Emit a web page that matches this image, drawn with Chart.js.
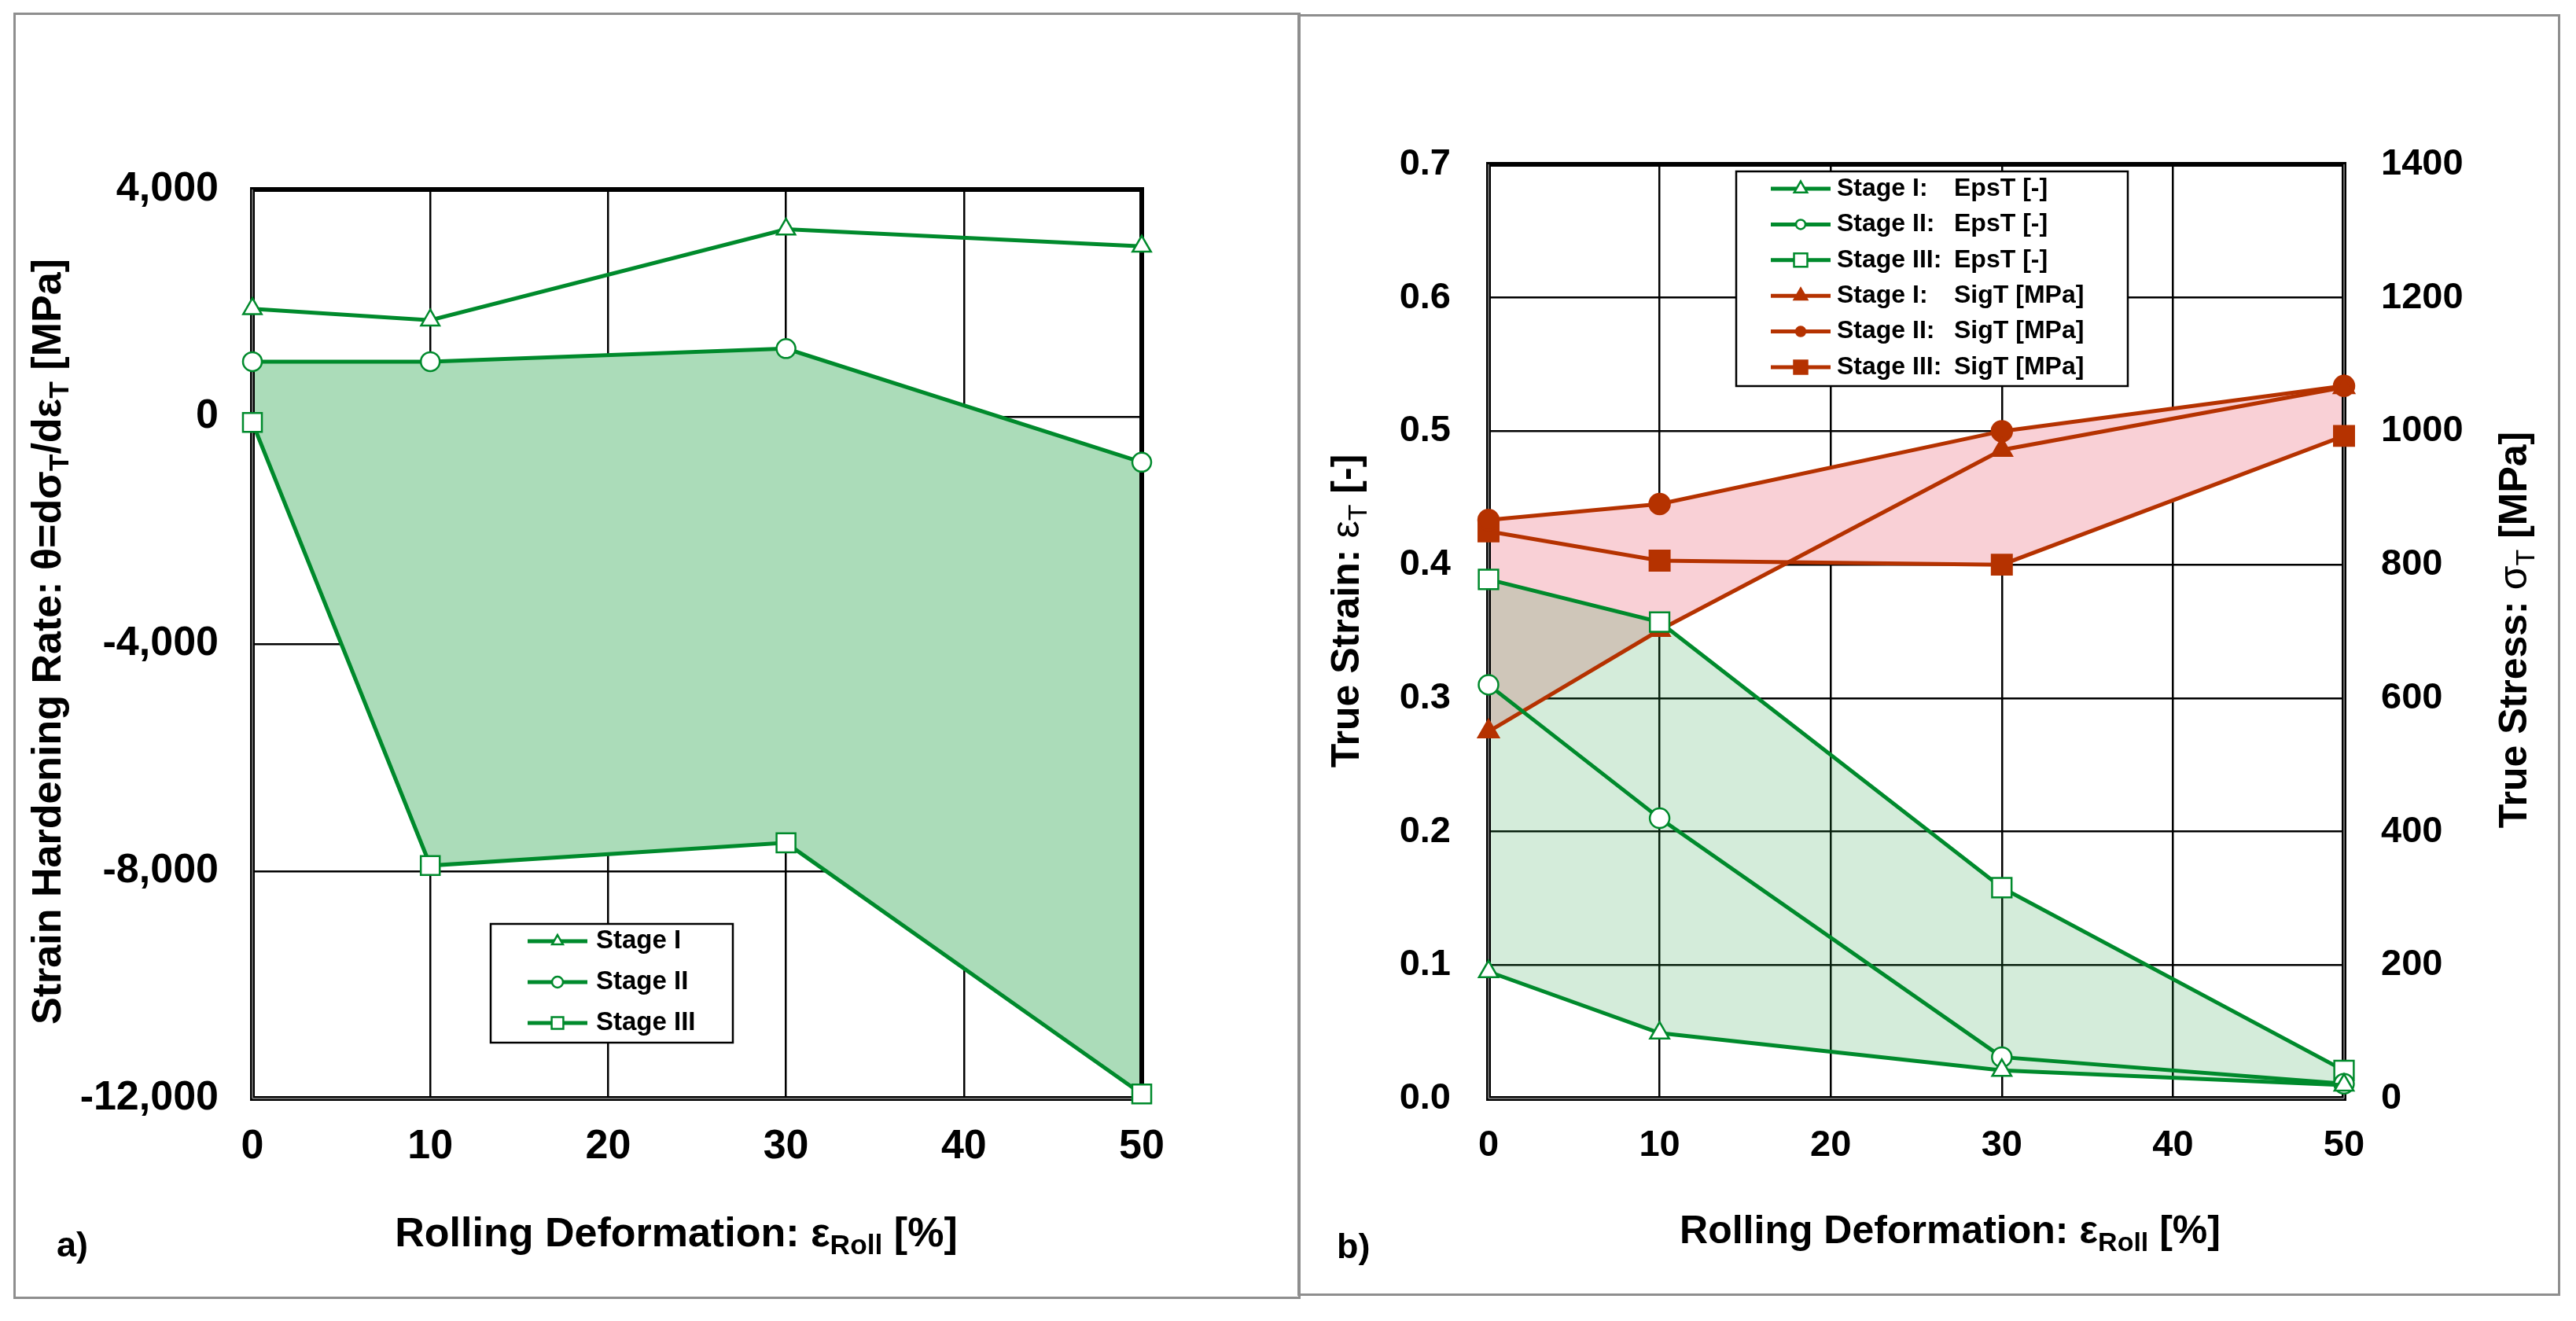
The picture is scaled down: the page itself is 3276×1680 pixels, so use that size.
<!doctype html>
<html>

<head>
  <meta charset="utf-8">
  <script src="https://cdn.jsdelivr.net/npm/chart.js@4.4.1/dist/chart.umd.min.js"></script>
  <style>
    html, body { margin: 0; padding: 0; background: #fff; }
    body { width: 3276px; height: 1680px; position: relative; overflow: hidden; }
    canvas { position: absolute; top: 0; }
    .panel { position: absolute; border: 3px solid #8e8e8e; box-sizing: border-box; pointer-events: none; }
  </style>
</head>

<body>
  <canvas id="chartA" width="1652" height="1680" style="left:0"></canvas>
  <canvas id="chartB" width="1624" height="1680" style="left:1652px"></canvas>
  <div class="panel" style="left:17px;top:16px;width:1637px;height:1636px"></div>
  <div class="panel" style="left:1650px;top:18px;width:1606px;height:1630px"></div>
  <script>
    // rolling deformation [%]
    const rolling = [0, 10, 30, 50];
    const rollingTicks = [0, 10, 20, 30, 40, 50];

    // a) strain hardening rate [MPa]
    const thetaStageI = [1900, 1700, 3300, 3000];
    const thetaStageII = [970, 970, 1200, -800];
    const thetaStageIII = [-100, -7900, -7500, -11920];
    const thetaTicks = [-12000, -8000, -4000, 0, 4000];

    // b) true strain [-] and true stress [MPa]
    const epsStageI = [0.095, 0.049, 0.021, 0.010];
    const epsStageII = [0.31, 0.21, 0.031, 0.011];
    const epsStageIII = [0.389, 0.357, 0.158, 0.021];
    const sigStageI = [550, 702, 972, 1066];
    const sigStageII = [867, 891, 1000, 1068];
    const sigStageIII = [850, 806, 800, 993];
    const epsTicks = [0, 0.1, 0.2, 0.3, 0.4, 0.5, 0.6, 0.7];
    const sigTicks = [0, 200, 400, 600, 800, 1000, 1200, 1400];

    const FONT = "'Liberation Sans', Arial, sans-serif";
    const GREEN = '#008a2c';
    const RED = '#b53200';

    Chart.defaults.font.family = FONT;
    Chart.defaults.color = '#000';

    const pts = (ys) => rolling.map((x, i) => ({ x: x, y: ys[i] }));
    const fixTicks = (list) => (s) => { s.ticks = list.map((v) => ({ value: v })); };

    function series(label, ys, color, style, radius, legendRadius, open, extra) {
      return Object.assign({
        label: label,
        data: pts(ys),
        borderColor: color,
        borderWidth: 5,
        pointStyle: style,
        pointRadius: radius,
        pointBorderWidth: 2.5,
        pointBorderColor: color,
        pointBackgroundColor: open ? '#fff' : color,
        legendRadius: legendRadius,
        fill: false,
        clip: false,
        tension: 0
      }, extra || {});
    }

    // black plot frame, drawn over the fills but under the lines
    const framePlugin = {
      id: 'frame',
      beforeDatasetsDraw(chart, args, o) {
        const { ctx, chartArea: a } = chart;
        ctx.save();
        ctx.strokeStyle = '#000';
        ctx.lineWidth = 6;
        ctx.strokeRect(a.left, a.top, a.right - a.left, a.bottom - a.top);
        ctx.strokeStyle = '#8a8a8a';
        ctx.lineWidth = 1.5;
        ctx.beginPath();
        (o.inner || []).forEach((side) => {
          if (side === 'left') { ctx.moveTo(a.left, a.top); ctx.lineTo(a.left, a.bottom); }
          if (side === 'bottom') { ctx.moveTo(a.left, a.bottom); ctx.lineTo(a.right, a.bottom); }
          if (side === 'right') { ctx.moveTo(a.right, a.top); ctx.lineTo(a.right, a.bottom); }
        });
        ctx.stroke();
        ctx.restore();
      }
    };

    // boxed legend placed inside the plot
    const boxLegend = {
      id: 'boxLegend',
      afterDraw(chart, args, o) {
        const ctx = chart.ctx;
        ctx.save();
        ctx.fillStyle = '#fff';
        ctx.fillRect(o.x, o.y, o.w, o.h);
        ctx.strokeStyle = '#000';
        ctx.lineWidth = 2.5;
        ctx.strokeRect(o.x, o.y, o.w, o.h);
        chart.data.datasets.forEach((d, i) => {
          const y = o.y + o.first + i * o.row;
          ctx.strokeStyle = d.borderColor;
          ctx.lineWidth = 5;
          ctx.beginPath();
          ctx.moveTo(o.x + o.line0, y);
          ctx.lineTo(o.x + o.line1, y);
          ctx.stroke();
          ctx.fillStyle = d.pointBackgroundColor;
          ctx.strokeStyle = d.pointBorderColor;
          ctx.lineWidth = 2.5;
          Chart.helpers.drawPoint(ctx, {
            pointStyle: d.pointStyle, radius: d.legendRadius, rotation: 0, borderWidth: 2.5
          }, o.x + (o.line0 + o.line1) / 2, y);
          ctx.fillStyle = '#000';
          ctx.font = 'bold ' + o.size + 'px ' + FONT;
          ctx.textAlign = 'left';
          ctx.textBaseline = 'middle';
          const parts = d.label.split(/:\s+/);
          if (parts.length > 1) {
            ctx.fillText(parts[0] + ':', o.x + o.text, y);
            ctx.fillText(parts[1], o.x + o.col2, y);
          } else {
            ctx.fillText(d.label, o.x + o.text, y);
          }
        });
        ctx.restore();
      }
    };

    // axis titles with subscripts and panel letters
    const richText = {
      id: 'richText',
      afterDraw(chart, args, o) {
        const ctx = chart.ctx;
        (o.items || []).forEach((it) => {
          ctx.save();
          ctx.translate(it.x, it.y);
          if (it.rot) ctx.rotate(it.rot * Math.PI / 180);
          ctx.fillStyle = '#000';
          ctx.textBaseline = 'alphabetic';
          ctx.textAlign = 'left';
          const segs = it.parts.map((p) => {
            const size = p.sub ? it.size * 0.68 : it.size;
            const font = (p.weight || 'bold') + ' ' + size + 'px ' + FONT;
            ctx.font = font;
            return { t: p.t, font: font, w: ctx.measureText(p.t).width, dy: p.sub ? it.size * 0.2 : 0 };
          });
          const total = segs.reduce((s, g) => s + g.w, 0);
          let x = it.align === 'left' ? 0 : -total / 2;
          const base = it.size * 0.36;
          segs.forEach((g) => {
            ctx.font = g.font;
            ctx.fillText(g.t, x, base + g.dy);
            x += g.w;
          });
          ctx.restore();
        });
      }
    };

    const gridOpts = { color: '#000', lineWidth: 2.5, drawTicks: false };
    const rollTitle = [{ t: 'Rolling Deformation: ε' }, { t: 'Roll', sub: true }, { t: ' [%]' }];

    // ---------- a) ----------
    new Chart(document.getElementById('chartA').getContext('2d'), {
      type: 'line',
      data: {
        datasets: [
          series('Stage I', thetaStageI, GREEN, 'triangle', 13.5, 8, true),
          series('Stage II', thetaStageII, GREEN, 'circle', 12, 7, true, { fill: 2, backgroundColor: '#abdcb9' }),
          series('Stage III', thetaStageIII, GREEN, 'rect', 17, 10.5, true)
        ]
      },
      options: {
        responsive: false,
        animation: false,
        devicePixelRatio: 1,
        events: [],
        layout: { padding: { left: 0, top: 241, right: 200, bottom: 163 } },
        scales: {
          x: {
            type: 'linear', min: 0, max: 50,
            afterBuildTicks: fixTicks(rollingTicks),
            afterFit: (s) => { s.height = 120; },
            grid: gridOpts,
            border: { display: false },
            ticks: { autoSkip: false, maxRotation: 0, padding: 30, font: { size: 52, weight: 'bold' } }
          },
          y: {
            type: 'linear', min: -12000, max: 4000,
            afterBuildTicks: fixTicks(thetaTicks),
            afterFit: (s) => { s.width = 321; },
            grid: gridOpts,
            border: { display: false },
            ticks: {
              autoSkip: false, padding: 43, font: { size: 52, weight: 'bold' },
              callback: (v) => v.toLocaleString('en-US')
            }
          }
        },
        plugins: {
          legend: { display: false },
          tooltip: { enabled: false },
          filler: { drawTime: 'beforeDatasetsDraw' },
          frame: { inner: ['left', 'bottom'] },
          boxLegend: { x: 624, y: 1175, w: 308, h: 151, first: 22, row: 52, line0: 47, line1: 123, text: 134, size: 33 },
          richText: {
            items: [
              { parts: rollTitle, x: 860, y: 1566, size: 52 },
              {
                parts: [{ t: 'Strain Hardening Rate: θ=dσ' }, { t: 'T', sub: true }, { t: '/dε' }, { t: 'T', sub: true }, { t: ' [MPa]' }],
                x: 58, y: 816, rot: -90, size: 52
              },
              { parts: [{ t: 'a)' }], x: 72, y: 1582, size: 45, align: 'left' }
            ]
          }
        }
      },
      plugins: [framePlugin, boxLegend, richText]
    });

    // ---------- b) ----------
    new Chart(document.getElementById('chartB').getContext('2d'), {
      type: 'line',
      data: {
        datasets: [
          series('Stage I:   EpsT [-]', epsStageI, GREEN, 'triangle', 14, 9.5, true, { yAxisID: 'y' }),
          series('Stage II:  EpsT [-]', epsStageII, GREEN, 'circle', 12.5, 6, true, { yAxisID: 'y' }),
          series('Stage III: EpsT [-]', epsStageIII, GREEN, 'rect', 17.5, 12, true,
            { yAxisID: 'y', fill: 0, backgroundColor: 'rgba(40,160,70,0.2)' }),
          series('Stage I:   SigT [MPa]', sigStageI, RED, 'triangle', 15, 9.5, false,
            { yAxisID: 'y1', fill: 4, backgroundColor: '#f9d0d6' }),
          series('Stage II:  SigT [MPa]', sigStageII, RED, 'circle', 13, 6, false, { yAxisID: 'y1' }),
          series('Stage III: SigT [MPa]', sigStageIII, RED, 'rect', 18, 12, false,
            { yAxisID: 'y1', fill: 4, backgroundColor: '#f9d0d6' })
        ]
      },
      options: {
        responsive: false,
        animation: false,
        devicePixelRatio: 1,
        events: [],
        layout: { padding: { left: 0, top: 209, right: 0, bottom: 163 } },
        scales: {
          x: {
            type: 'linear', min: 0, max: 50,
            afterBuildTicks: fixTicks(rollingTicks),
            afterFit: (s) => { s.height = 120; },
            grid: gridOpts,
            border: { display: false },
            ticks: { autoSkip: false, maxRotation: 0, padding: 32, font: { size: 47, weight: 'bold' } }
          },
          y: {
            type: 'linear', position: 'left', min: 0, max: 0.7,
            afterBuildTicks: fixTicks(epsTicks),
            afterFit: (s) => { s.width = 241; },
            grid: gridOpts,
            border: { display: false },
            ticks: {
              autoSkip: false, padding: 48, font: { size: 47, weight: 'bold' },
              callback: (v) => v.toFixed(1)
            }
          },
          y1: {
            type: 'linear', position: 'right', min: 0, max: 1400,
            afterBuildTicks: fixTicks(sigTicks),
            afterFit: (s) => { s.width = 295; },
            grid: { display: false, drawTicks: false },
            border: { display: false },
            ticks: {
              autoSkip: false, padding: 47, font: { size: 47, weight: 'bold' },
              callback: (v) => String(v)
            }
          }
        },
        plugins: {
          legend: { display: false },
          tooltip: { enabled: false },
          filler: { drawTime: 'beforeDatasetsDraw' },
          frame: { inner: ['left', 'bottom', 'right'] },
          boxLegend: { x: 556, y: 218, w: 498, h: 273, first: 22, row: 45.4, line0: 44, line1: 120, text: 128, col2: 277, size: 32 },
          richText: {
            items: [
              { parts: rollTitle, x: 828, y: 1563, size: 50 },
              { parts: [{ t: 'True Strain: ' }, { t: 'ε', weight: 'normal' }, { t: 'T', sub: true, weight: 'normal' }, { t: ' [-]' }], x: 58, y: 777, rot: -90, size: 50 },
              { parts: [{ t: 'True Stress: ' }, { t: 'σ', weight: 'normal' }, { t: 'T', sub: true, weight: 'normal' }, { t: ' [MPa]' }], x: 1543, y: 801, rot: -90, size: 50 },
              { parts: [{ t: 'b)' }], x: 48, y: 1584, size: 45, align: 'left' }
            ]
          }
        }
      },
      plugins: [framePlugin, boxLegend, richText]
    });
  </script>
</body>

</html>
